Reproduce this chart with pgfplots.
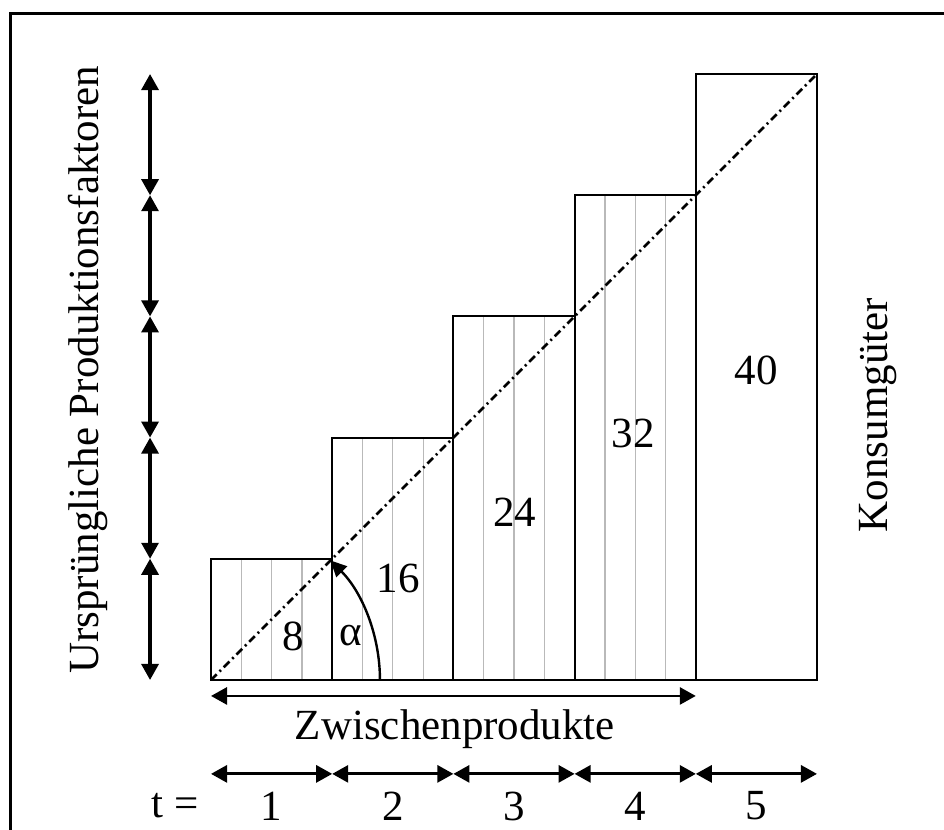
\documentclass[border=0pt]{standalone}
\usepackage{fontspec}
\setmainfont{Liberation Serif}
\usepackage{pgfplots}
\pgfplotsset{compat=1.18}
\usetikzlibrary{arrows.meta}

\begin{document}
\begin{tikzpicture}[font=\fontsize{21.5}{26}\selectfont,
  dbl/.style={{Triangle[length=8pt,width=8.5pt]}-{Triangle[length=8pt,width=8.5pt]}, line width=1.4pt}]
\begin{axis}[
  scale only axis, width=472pt, height=415pt,
  xmin=-1.741, xmax=6.048, ymin=-1.238, ymax=5.611,
  axis lines=none]
\path (rel axis cs:0,0) (rel axis cs:1,1);
% frame (left and top edge only visible)
\draw[line width=1.5pt] (axis cs:-1.658,-1.4) -- (axis cs:-1.658,5.503) -- (axis cs:6.2,5.503);
% sub-divisions of the intermediate-product bars
\addplot[ycomb, draw=gray!55, line width=0.6pt, mark=none] coordinates {
  (0.25,1)(0.5,1)(0.75,1)
  (1.25,2)(1.5,2)(1.75,2)
  (2.25,3)(2.5,3)(2.75,3)
  (3.25,4)(3.5,4)(3.75,4)};
% bars: period t spans [t-1,t], height t
\addplot[ybar interval, draw=black, fill=none, line width=1pt] coordinates {
  (0,1)(1,2)(2,3)(3,4)(4,5)(5,5)};
% diagonal
\addplot[black, line width=1.3pt, dash pattern=on 4pt off 2pt on 1pt off 2pt] coordinates {(0,0)(5,5)};
% angle alpha
\draw[line width=1.2pt, -{Triangle[length=8pt,width=7.5pt]}] (axis cs:1.394,0) arc[start angle=0, end angle=45, radius=84.5pt];
% value labels
\node at (axis cs:0.677,0.363) {8};
\node at (axis cs:1.155,0.363) {α};
\node at (axis cs:1.543,0.841) {16};
\node at (axis cs:2.508,1.385) {24};
\node at (axis cs:3.482,2.036) {32};
\node at (axis cs:4.497,2.556) {40};
% left arrows
\draw[dbl, line width=1.6pt] (axis cs:-0.503,0) -- (axis cs:-0.503,1);
\draw[dbl, line width=1.6pt] (axis cs:-0.503,1) -- (axis cs:-0.503,2);
\draw[dbl, line width=1.6pt] (axis cs:-0.503,2) -- (axis cs:-0.503,3);
\draw[dbl, line width=1.6pt] (axis cs:-0.503,3) -- (axis cs:-0.503,4);
\draw[dbl, line width=1.6pt] (axis cs:-0.503,4) -- (axis cs:-0.503,5);
\node[rotate=90] at (axis cs:-1.015,2.558) {Ursprüngliche Produktionsfaktoren};
\node[rotate=90] at (axis cs:5.503,2.186) {Konsumgüter};
% intermediate products
\draw[dbl] (axis cs:0,-0.132) -- (axis cs:4,-0.132);
\node at (axis cs:2.013,-0.41) {Zwischenprodukte};
% periods
\draw[dbl] (axis cs:0,-0.775) -- (axis cs:1,-0.775);
\draw[dbl] (axis cs:1,-0.775) -- (axis cs:2,-0.775);
\draw[dbl] (axis cs:2,-0.775) -- (axis cs:3,-0.775);
\draw[dbl] (axis cs:3,-0.775) -- (axis cs:4,-0.775);
\draw[dbl] (axis cs:4,-0.775) -- (axis cs:5,-0.775);
\node at (axis cs:-0.297,-1.04) {t =};
\node at (axis cs:0.5,-1.04) {1};
\node at (axis cs:1.5,-1.04) {2};
\node at (axis cs:2.5,-1.04) {3};
\node at (axis cs:3.5,-1.04) {4};
\node at (axis cs:4.5,-1.04) {5};
\end{axis}
\end{tikzpicture}
\end{document}
